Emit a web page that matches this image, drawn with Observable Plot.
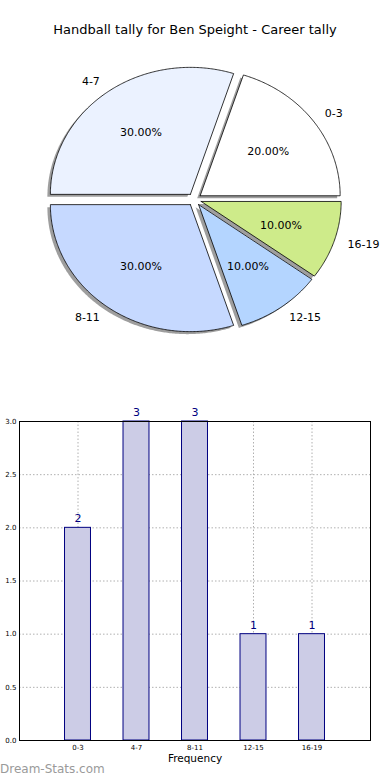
<!DOCTYPE html>
<html><head><meta charset="utf-8">
<script src="https://cdn.jsdelivr.net/npm/d3@7"></script>
<script src="https://cdn.jsdelivr.net/npm/@observablehq/plot@0.6"></script>
<style>
body{margin:0;background:#fff;font-family:"DejaVu Sans",sans-serif;}
#wrap{position:relative;width:390px;height:780px;overflow:hidden;background:#fff;}
#title{position:absolute;top:22px;left:0;width:390px;text-align:center;font-size:13px;color:#000;}
#pie{position:absolute;top:40px;left:0;}
#bar{position:absolute;top:400px;left:0;}
#mark{position:absolute;left:0;top:762px;font-size:12px;color:#9a9a9a;}
</style></head><body>
<div id="wrap">
<div id="title">Handball tally for Ben Speight - Career tally</div>
<div id="pie"></div>
<div id="bar"></div>
<div id="mark">Dream-Stats.com</div>
</div>
<script>
const categories = ["0-3", "4-7", "8-11", "12-15", "16-19"];
const counts = [2, 3, 3, 1, 1];
const sliceColors = ["#ffffff", "#ebf2ff", "#c6d9ff", "#b4d5ff", "#ceeb8a"];
const yTicks = [0, 0.5, 1, 1.5, 2, 2.5, 3];

const explode = 0.05;
const total = d3.sum(counts);
let acc = 0;
const slices = categories.map((c, i) => {
  const a0 = acc / total * 2 * Math.PI;
  acc += counts[i];
  const a1 = acc / total * 2 * Math.PI;
  const mid = (a0 + a1) / 2;
  return {c, a0, a1, mid, ox: explode * Math.cos(mid), oy: explode * Math.sin(mid), pct: counts[i] / total * 100};
});
const poly = slices.flatMap(s => {
  const pts = [{slice: s.c, x: s.ox, y: s.oy}];
  const n = Math.max(4, Math.ceil((s.a1 - s.a0) / 0.01));
  for (let k = 0; k <= n; k++) {
    const a = s.a0 + (s.a1 - s.a0) * k / n;
    pts.push({slice: s.c, x: s.ox + Math.cos(a), y: s.oy + Math.sin(a)});
  }
  pts.push({slice: s.c, x: s.ox, y: s.oy});
  return pts;
});
const lx = s => s.ox + 1.1 * Math.cos(s.mid);
const ly = s => s.oy + 1.1 * Math.sin(s.mid);

const pie = Plot.plot({
  width: 390, height: 320, margin: 0,
  x: {domain: [-1, 1], range: [54, 334], axis: null},
  y: {domain: [-1, 1], range: [286, 32], axis: null},
  color: {domain: categories, range: sliceColors},
  style: {fontFamily: "DejaVu Sans", background: "transparent"},
  marks: [
    Plot.line(poly, {x: "x", y: "y", z: "slice", fill: "#000", fillOpacity: 0.38, stroke: "none", dx: -3, dy: 2.5}),
    Plot.line(poly, {x: "x", y: "y", z: "slice", fill: "slice", stroke: "black", strokeWidth: 0.8, strokeLinejoin: "miter"}),
    Plot.text(slices, {x: s => s.ox + 0.6 * Math.cos(s.mid), y: s => s.oy + 0.6 * Math.sin(s.mid), text: s => s.pct.toFixed(2) + "%", fontSize: 11, fill: "black"}),
    Plot.text(slices.filter(s => Math.cos(s.mid) >= 0), {x: lx, y: ly, text: "c", textAnchor: "start", fontSize: 11, fill: "black"}),
    Plot.text(slices.filter(s => Math.cos(s.mid) < 0), {x: lx, y: ly, text: "c", textAnchor: "end", fontSize: 11, fill: "black"})
  ]
});
document.getElementById("pie").append(pie);

const bars = categories.map((c, i) => ({c, n: counts[i]}));
const bar = Plot.plot({
  width: 390, height: 375,
  marginLeft: 19, marginRight: 20, marginTop: 21, marginBottom: 35,
  x: {type: "band", domain: categories, paddingInner: 0.556, paddingOuter: 0.778, round: false},
  y: {domain: [0, 3]},
  style: {fontFamily: "DejaVu Sans", fontSize: "7px", background: "transparent"},
  marks: [
    Plot.gridX({stroke: "#b0b0b0", strokeOpacity: 1, strokeDasharray: "1.5,2"}),
    Plot.gridY({ticks: yTicks, stroke: "#b0b0b0", strokeOpacity: 1, strokeDasharray: "1.5,2"}),
    Plot.barY(bars, {x: "c", y: "n", fill: "#ccccE6", stroke: "#000080", strokeWidth: 1}),
    Plot.text(bars, {x: "c", y: "n", text: "n", dy: -9, fill: "#000080", fontSize: 11}),
    Plot.frame({stroke: "black", strokeWidth: 1}),
    Plot.axisY({ticks: yTicks, tickFormat: d3.format(".1f"), tickSize: 0, tickPadding: 3, label: null, fontSize: 7, fill: "black"}),
    Plot.axisX({tickSize: 0, tickPadding: 4.5, label: null, fontSize: 7, fill: "black"}),
    Plot.text(["Frequency"], {frameAnchor: "bottom", dy: 21, fontSize: 10.5, fill: "black"})
  ]
});
document.getElementById("bar").append(bar);
</script>
</body></html>
